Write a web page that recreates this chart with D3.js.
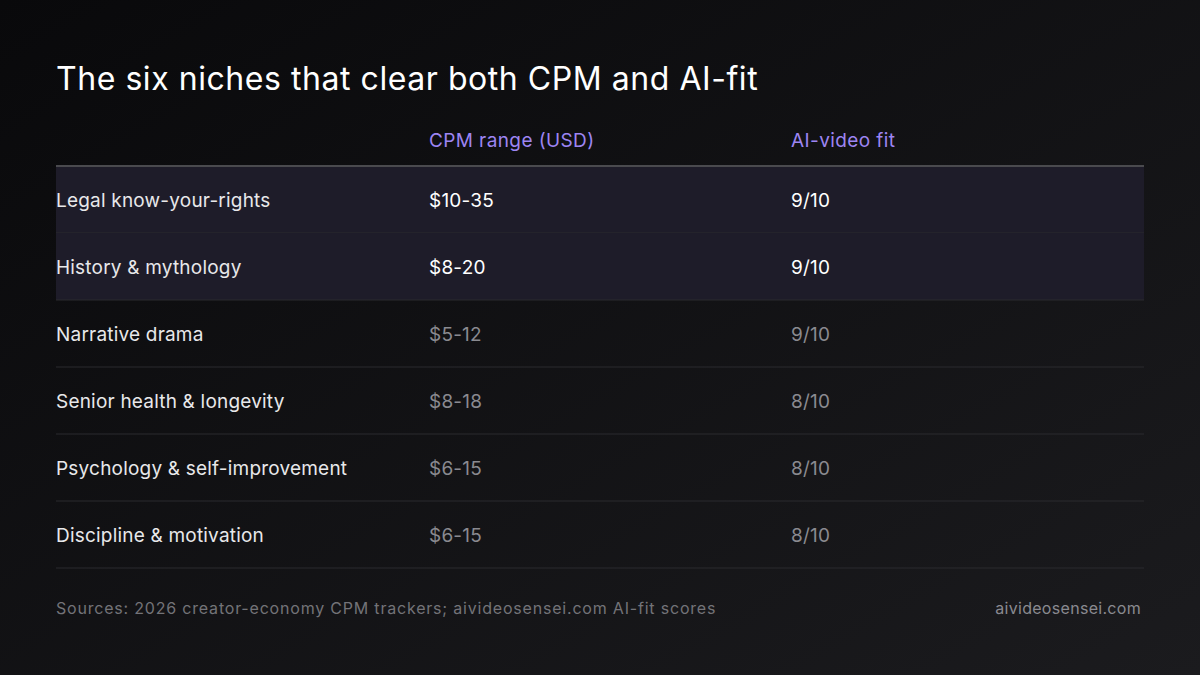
<!DOCTYPE html>
<html><head><meta charset="utf-8">
<script src="https://cdn.jsdelivr.net/npm/d3@7"></script>
<style>body{margin:0;background:#0d0d0f}</style></head>
<body><svg id="c" width="1200" height="675"></svg>
<script>
const niches = ["Legal know-your-rights","History & mythology","Narrative drama","Senior health & longevity","Psychology & self-improvement","Discipline & motivation"];
const cpmRanges = ["$10-35","$8-20","$5-12","$8-18","$6-15","$6-15"];
const aiFit = ["9/10","9/10","9/10","8/10","8/10","8/10"];
const highlighted = [true,true,false,false,false,false];
const headers = ["","CPM range (USD)","AI-video fit"];

const svg = d3.select("#c");
const font = "Inter, 'Noto Sans', sans-serif";
const defs = svg.append("defs");
const g = defs.append("linearGradient").attr("id","bg").attr("x1","0").attr("y1","0").attr("x2","1").attr("y2","1");
g.append("stop").attr("offset","0").attr("stop-color","#09090b");
g.append("stop").attr("offset","1").attr("stop-color","#1b1b1e");
svg.append("rect").attr("width",1200).attr("height",675).attr("fill","url(#bg)");

svg.append("text").attr("x",56).attr("y",90).attr("fill","#ffffff").attr("font-family",font)
  .attr("font-size",32).attr("letter-spacing",0.55).text("The six niches that clear both CPM and AI-fit");

const x = d3.scaleOrdinal().domain([0,1,2]).range([56,429,791]);
const y = d3.scaleBand().domain(d3.range(niches.length)).range([166,568]);

headers.forEach((h,i)=>svg.append("text").attr("x",x(i)).attr("y",147).attr("fill","#9d85f2")
  .attr("font-family",font).attr("font-size",19).attr("letter-spacing",0.4).text(h));

const rows = svg.selectAll("g.row").data(niches).join("g").attr("class","row")
  .attr("transform",(d,i)=>`translate(0,${y(i)})`);
rows.append("rect").attr("x",56).attr("width",1088).attr("height",y.bandwidth())
  .attr("fill",(d,i)=>highlighted[i]?"#1e1c29":"none");
rows.append("line").attr("x1",56).attr("x2",1144).attr("y1",y.bandwidth()).attr("y2",y.bandwidth())
  .attr("stroke","#2a2a2e").attr("stroke-width",1);
const cols = [niches,cpmRanges,aiFit];
cols.forEach((arr,c)=>{
  rows.append("text").attr("x",x(c)).attr("y",y.bandwidth()/2+7).attr("font-family",font).attr("font-size",19)
    .attr("letter-spacing",0.2)
    .attr("fill",(d,i)=> c===0 ? "#e8e8ea" : (highlighted[i]?"#ffffff":"#8a8a90"))
    .text((d,i)=>arr[i]);
});
svg.append("line").attr("x1",56).attr("x2",1144).attr("y1",166).attr("y2",166).attr("stroke","#4a4a4e").attr("stroke-width",2);

svg.append("text").attr("x",56).attr("y",614).attr("fill","#737378").attr("font-family",font).attr("font-size",16)
  .attr("letter-spacing",0.8).text("Sources: 2026 creator-economy CPM trackers; aivideosensei.com AI-fit scores");
svg.append("text").attr("x",1141).attr("y",614).attr("text-anchor","end").attr("fill","#8a8a90").attr("font-family",font).attr("font-size",16)
  .attr("letter-spacing",0.3).text("aivideosensei.com");
</script></body></html>
